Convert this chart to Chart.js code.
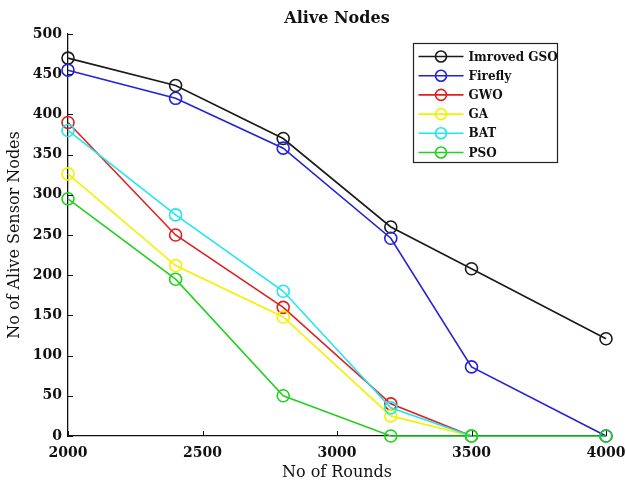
<!DOCTYPE html>
<html>
<head>
<meta charset="utf-8">
<script src="https://cdn.jsdelivr.net/npm/chart.js@4.4.1/dist/chart.umd.min.js"></script>
<style>
  html, body { margin: 0; padding: 0; background: #fff; }
  #wrap { width: 626px; height: 482px; }
</style>
</head>
<body>
<div id="wrap"><canvas id="aliveChart" width="626" height="482"></canvas></div>
<script>
// rounds where each algorithm was measured
const rounds = [2000, 2400, 2800, 3200, 3500, 4000];

// alive nodes per algorithm (null = not plotted)
const improvedGso = [470, 436, 370, 260, 208, 121];
const firefly     = [455, 420, 358, 246, 86, 0];
const gwo         = [390, 250, 160, 40, 0, null];
const ga          = [326, 212, 148, 25, 0, null];
const bat         = [380, 275, 180, 35, 0, null];
const pso         = [295, 195, 50, 0, 0, 0];

const seriesNames = ['Imroved GSO', 'Firefly', 'GWO', 'GA', 'BAT', 'PSO'];
const seriesColors = ['#1a1a1a', '#2323d6', '#e02020', '#f2f200', '#22e6ee', '#22d022'];
const xTicks = [2000, 2500, 3000, 3500, 4000];

const serif = '"DejaVu Serif", "Liberation Serif", serif';

function toPoints(vals) {
    const pts = [];
    vals.forEach((v, i) => { if (v !== null) pts.push({ x: rounds[i], y: v }); });
    return pts;
}

const allSeries = [improvedGso, firefly, gwo, ga, bat, pso];

// later series drawn on top (lower order = on top)
const datasets = allSeries.map((vals, i) => ({
    label: seriesNames[i],
    data: toPoints(vals),
    order: allSeries.length - i,
    borderColor: seriesColors[i],
    backgroundColor: 'rgba(0,0,0,0)',
    borderWidth: 1.6,
    pointRadius: 6,
    pointHoverRadius: 6,
    pointBorderWidth: 1.6,
    pointBackgroundColor: 'rgba(0,0,0,0)',
    pointBorderColor: seriesColors[i],
    tension: 0,
    clip: false
}));

// draws title, inner tick marks and the boxed legend
const extras = {
    id: 'extras',
    afterDraw(chart) {
        const c = chart.ctx;
        const a = chart.chartArea;
        const xs = chart.scales.x, ys = chart.scales.y;
        c.save();
        // title
        c.fillStyle = '#111';
        c.font = 'bold 16px ' + serif;
        c.textAlign = 'center';
        c.textBaseline = 'middle';
        c.fillText('Alive Nodes', (a.left + a.right) / 2, 19);

        // inner ticks
        c.strokeStyle = '#111';
        c.lineWidth = 1;
        xTicks.forEach(t => {
            const px = Math.round(xs.getPixelForValue(t)) + 0.5;
            c.beginPath();
            c.moveTo(px, a.bottom);
            c.lineTo(px, a.bottom - 5);
            c.stroke();
        });
        for (let v = 0; v <= 500; v += 50) {
            const py = Math.round(ys.getPixelForValue(v)) + 0.5;
            c.beginPath();
            c.moveTo(a.left, py);
            c.lineTo(a.left + 5, py);
            c.stroke();
        }

        // legend
        const bx = 413.5, by = 43.5, bw = 144, bh = 119;
        c.fillStyle = '#fff';
        c.fillRect(bx, by, bw, bh);
        c.strokeStyle = '#222';
        c.lineWidth = 1.2;
        c.strokeRect(bx, by, bw, bh);
        c.font = 'bold 12px ' + serif;
        c.textAlign = 'left';
        chart.data.datasets.forEach((ds, i) => {
            const yy = by + 13 + i * 19.2;
            c.strokeStyle = ds.borderColor;
            c.lineWidth = 1.6;
            c.beginPath();
            c.moveTo(bx + 5, yy);
            c.lineTo(bx + 50, yy);
            c.stroke();
            c.beginPath();
            c.arc(bx + 27.5, yy, 5.5, 0, Math.PI * 2);
            c.stroke();
            c.fillStyle = '#111';
            c.fillText(ds.label, bx + 55, yy + 1);
        });
        c.restore();
    }
};

new Chart(document.getElementById('aliveChart'), {
    type: 'line',
    data: { datasets: datasets },
    options: {
        responsive: false,
        animation: false,
        layout: { padding: { top: 34, right: 20, left: 0, bottom: 0 } },
        plugins: {
            legend: { display: false },
            title: { display: false },
            tooltip: { enabled: false }
        },
        scales: {
            x: {
                type: 'linear',
                min: 2000,
                max: 4000,
                afterBuildTicks: s => { s.ticks = xTicks.map(v => ({ value: v })); },
                afterFit: s => { s.height = 46; s.paddingLeft = 0; s.paddingRight = 0; },
                grid: { display: false, drawTicks: false },
                border: { color: '#111', width: 1.3 },
                ticks: {
                    color: '#111',
                    font: { family: serif, size: 14, weight: 'bold' },
                    padding: 9,
                    maxRotation: 0,
                    callback: v => String(v)
                },
                title: {
                    display: true,
                    text: 'No of Rounds',
                    color: '#111',
                    font: { family: serif, size: 16 },
                    padding: { top: 0, bottom: 0 }
                }
            },
            y: {
                min: 0,
                max: 500,
                afterFit: s => { s.width = 68; s.paddingTop = 0; s.paddingBottom = 0; },
                grid: { display: false, drawTicks: false },
                border: { color: '#111', width: 1.3 },
                ticks: {
                    stepSize: 50,
                    color: '#111',
                    font: { family: serif, size: 14, weight: 'bold' },
                    padding: 6
                },
                title: {
                    display: true,
                    text: 'No of Alive Sensor Nodes',
                    color: '#111',
                    font: { family: serif, size: 16 },
                    padding: { top: 5, bottom: 0 }
                }
            }
        }
    },
    plugins: [extras]
});
</script>
</body>
</html>
